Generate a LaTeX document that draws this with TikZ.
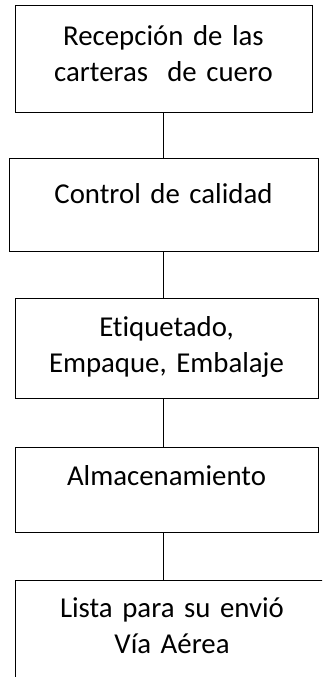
\documentclass[tikz,border=0pt]{standalone}
\usepackage{fontspec}
\setmainfont{Carlito}[Ligatures=NoCommon]
\begin{document}
\begin{tikzpicture}[x=1pt, y=-1pt, line width=1pt,
  box/.style={draw, rectangle, inner sep=0pt},
  txt/.style={anchor=base, text width=310pt, align=center, inner sep=0pt,
    font=\fontsize{28.8}{36}\selectfont}]
  \clip (0,0) rectangle (322,677);
  \node[box, minimum width=297pt, minimum height=106pt] (recep) at (163.5,59) {};
  \node[box, minimum width=309pt, minimum height=93pt] (ctrl) at (163.5,204.5) {};
  \node[box, minimum width=303pt, minimum height=100pt] (etiq) at (166.5,348) {};
  \node[box, minimum width=303pt, minimum height=85pt] (alma) at (166.5,489.5) {};
  \node[box, minimum width=325pt, minimum height=140pt] (lista) at (177.5,650) {};
  \node[txt] (recepT) at ([yshift=-39.7pt]recep.north) {Recepción de las\\carteras~ de cuero};
  \node[txt] (ctrlT) at ([yshift=-46pt]ctrl.north) {Control de calidad};
  \node[txt] (etiqT) at ([yshift=-38.7pt]etiq.north) {Etiquetado,\\Empaque, Embalaje};
  \node[txt] (almaT) at ([yshift=-38.7pt]alma.north) {Almacenamiento};
  \node[txt] (listaT) at ([xshift=-5.5pt, yshift=-38.3pt]lista.north) {Lista para su envió\\Vía Aérea};
  \draw (recep.south) -- (ctrl.north);
  \draw (ctrl.south) -- (ctrl.south |- etiq.north);
  \draw (etiq.south -| ctrl.south) -- (ctrl.south |- alma.north);
  \draw (alma.south -| ctrl.south) -- (ctrl.south |- lista.north);
\end{tikzpicture}
\end{document}
